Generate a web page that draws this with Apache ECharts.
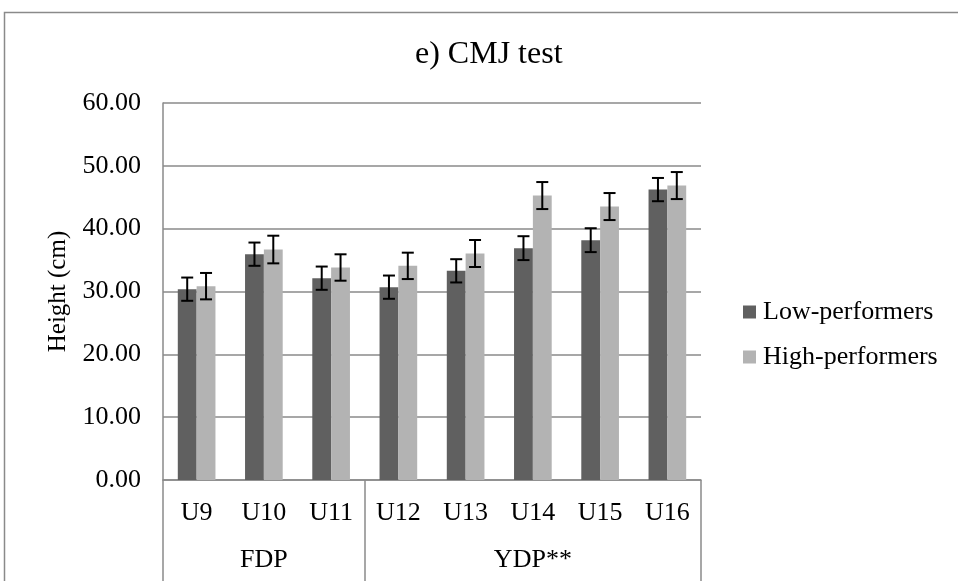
<!DOCTYPE html>
<html>
<head>
<meta charset="utf-8">
<script src="https://cdn.jsdelivr.net/npm/echarts@6/dist/echarts.min.js"></script>
<style>
  html, body { margin: 0; padding: 0; background: #fff; }
  #chart { width: 958px; height: 581px; }
</style>
</head>
<body>
<div id="chart"></div>
<script>
// Age categories and their programme groups
const categories = ['U9', 'U10', 'U11', 'U12', 'U13', 'U14', 'U15', 'U16'];
const groupLabels = ['FDP', 'YDP**'];
const groupSpans = [3, 5];

// CMJ height means (cm) and error-bar half widths
const lowPerformers = [30.37, 35.94, 32.12, 30.69, 33.29, 36.90, 38.17, 46.22];
const highPerformers = [30.85, 36.68, 33.82, 34.08, 36.05, 45.27, 43.52, 46.86];
const lowErr = [1.85, 1.85, 1.85, 1.85, 1.85, 1.90, 1.90, 1.85];
const highErr = [2.10, 2.20, 2.10, 2.10, 2.15, 2.15, 2.15, 2.15];

const yTickLabels = ['0.00', '10.00', '20.00', '30.00', '40.00', '50.00', '60.00'];

const FONT = "'Liberation Serif', 'Times New Roman', serif";
const GRAY = '#8a8a8a';
const DARK = '#606060';
const LIGHT = '#b3b3b3';
const CAT_GAP = 0.44; // fraction of each band left empty between bar pairs

// Middle category index of each group, used to centre the group label
const groupLabelAt = {};
let start = 0;
groupSpans.forEach((span, g) => {
  groupLabelAt[start + (span - 1) / 2] = groupLabels[g];
  start += span;
});
// Boundaries between groups get a divider tick
const groupBoundaries = [0];
groupSpans.reduce((acc, s) => { groupBoundaries.push(acc + s); return acc + s; }, 0);

function errorBars(values, errs, side) {
  return {
    type: 'custom',
    xAxisIndex: 0,
    yAxisIndex: 0,
    z: 10,
    silent: true,
    encode: { x: 0, y: [1, 2] },
    data: values.map((v, i) => [i, v + errs[i], v - errs[i]]),
    renderItem: function (params, api) {
      const idx = api.value(0);
      const band = api.size([1, 0])[0];
      const barW = band * (1 - CAT_GAP) / 2;
      const cx = api.coord([idx, 0])[0] + side * barW / 2;
      const yTop = api.coord([idx, api.value(1)])[1];
      const yBot = api.coord([idx, api.value(2)])[1];
      const half = 6;
      const style = { stroke: '#000', lineWidth: 2 };
      return {
        type: 'group',
        children: [
          { type: 'line', shape: { x1: cx, y1: yTop, x2: cx, y2: yBot }, style: style },
          { type: 'line', shape: { x1: cx - half, y1: yTop, x2: cx + half, y2: yTop }, style: style },
          { type: 'line', shape: { x1: cx - half, y1: yBot, x2: cx + half, y2: yBot }, style: style }
        ]
      };
    }
  };
}

const chart = echarts.init(document.getElementById('chart'), null, { renderer: 'canvas' });

chart.setOption({
  animation: false,
  backgroundColor: '#fff',
  textStyle: { fontFamily: FONT },
  graphic: [{
    type: 'rect',
    shape: { x: 4.5, y: 12.5, width: 1200, height: 1200 },
    style: { fill: 'none', stroke: GRAY, lineWidth: 1.5 },
    silent: true,
    z: -1
  }],
  title: {
    text: 'e) CMJ test',
    left: 415,
    top: 39,
    padding: 0,
    textStyle: { fontFamily: FONT, fontSize: 32, fontWeight: 'normal', color: '#000' }
  },
  legend: {
    orient: 'vertical',
    left: 738,
    top: 294,
    itemWidth: 13,
    itemHeight: 13,
    itemGap: 19,
    icon: 'rect',
    data: ['Low-performers', 'High-performers'],
    textStyle: { fontFamily: FONT, fontSize: 26, color: '#000', lineHeight: 26, padding: [0, 0, 0, 2] }
  },
  grid: { left: 163, right: 257, top: 103, bottom: 101 },
  xAxis: [{
    type: 'category',
    data: categories,
    axisLine: { lineStyle: { color: GRAY, width: 1.5 } },
    axisTick: { show: false },
    axisLabel: { fontFamily: FONT, fontSize: 26, color: '#000', margin: 20, interval: 0 }
  }, {
    type: 'category',
    data: categories,
    position: 'bottom',
    axisLine: { show: false },
    axisTick: {
      show: true,
      length: 110,
      interval: (i) => groupBoundaries.indexOf(i) !== -1,
      lineStyle: { color: GRAY, width: 1.5 }
    },
    axisLabel: {
      fontFamily: FONT, fontSize: 26, color: '#000', margin: 67, interval: 0,
      formatter: (v, i) => groupLabelAt[i] || ''
    }
  }],
  yAxis: {
    type: 'value',
    min: 0,
    max: 60,
    interval: 10,
    name: 'Height (cm)',
    nameLocation: 'middle',
    nameGap: 92,
    nameRotate: 90,
    nameTextStyle: { fontFamily: FONT, fontSize: 25, color: '#000' },
    axisLine: { show: true, lineStyle: { color: GRAY, width: 1.5 } },
    axisTick: { show: false },
    splitLine: { lineStyle: { color: GRAY, width: 1.5 } },
    axisLabel: {
      fontFamily: FONT, fontSize: 26, color: '#000', margin: 22,
      formatter: (v) => yTickLabels[Math.round(v / 10)]
    }
  },
  series: [{
    name: 'Low-performers',
    type: 'bar',
    data: lowPerformers,
    itemStyle: { color: DARK },
    barGap: '0%',
    barCategoryGap: (CAT_GAP * 100) + '%'
  }, {
    name: 'High-performers',
    type: 'bar',
    data: highPerformers,
    itemStyle: { color: LIGHT },
    barGap: '0%',
    barCategoryGap: (CAT_GAP * 100) + '%'
  },
  errorBars(lowPerformers, lowErr, -1),
  errorBars(highPerformers, highErr, 1)
  ]
});
</script>
</body>
</html>
